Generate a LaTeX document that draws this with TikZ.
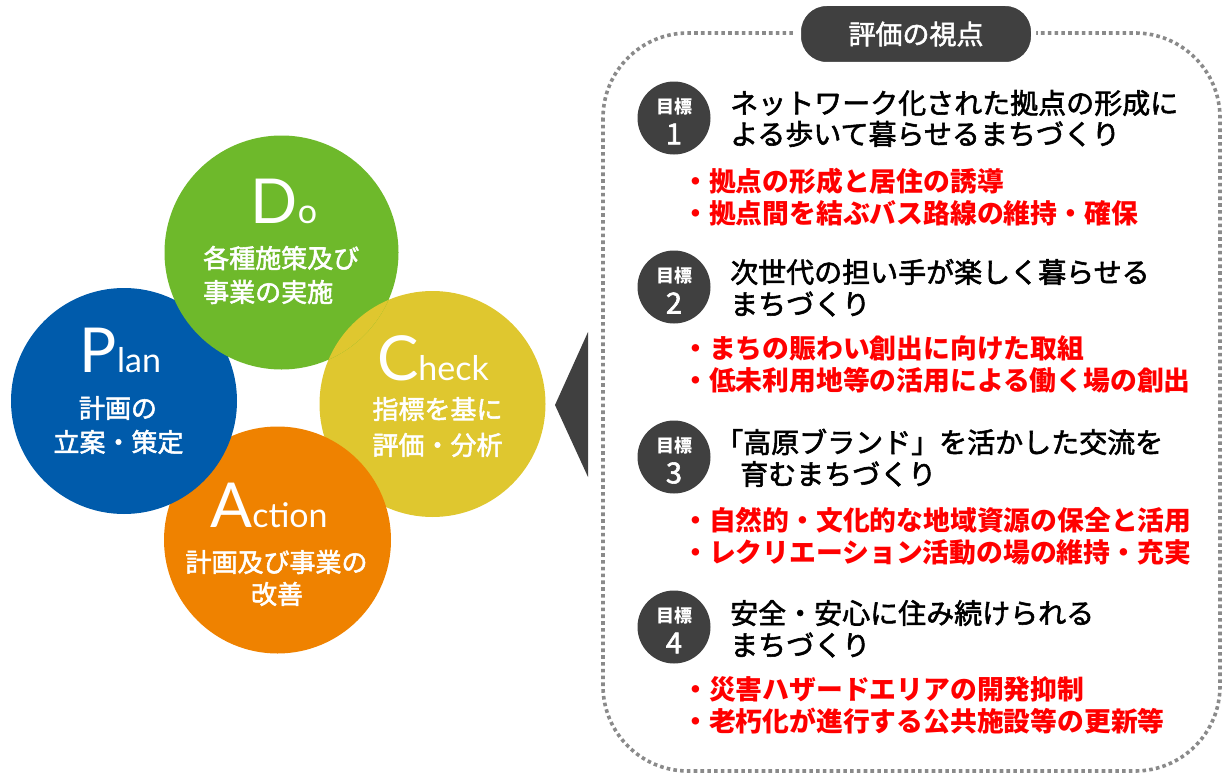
\documentclass[tikz,border=0pt]{standalone}
\usepackage{fontspec}
\setmainfont{Lato}
\newfontfamily\jp{Noto Sans CJK JP}
\newfontfamily\jpm[FakeBold=2]{Noto Sans CJK JP}
\newfontfamily\lat{Lato}
\definecolor{cgreen}{HTML}{6EB92B}
\definecolor{cblue}{HTML}{005BAB}
\definecolor{cyellow}{HTML}{DFC72F}
\definecolor{corange}{HTML}{EF8200}
\definecolor{dark}{HTML}{404040}
\definecolor{dotgray}{HTML}{8A8A8A}
\definecolor{itemred}{HTML}{FF0000}
\newcommand{\bigw}[2]{{\lat\fontsize{62}{62}\selectfont #1}{\lat\fontsize{34}{34}\selectfont #2}}
\begin{document}
\begin{tikzpicture}[x=1pt,y=-1pt,
  pdca/.style={circle, inner sep=0pt, draw=none},
  ctext/.style={text=white, inner sep=0pt, font=\jpm\fontsize{26}{26}\selectfont},
  latin/.style={text=white, inner sep=0pt, anchor=base},
  head/.style={anchor=west, inner sep=0pt, text=black, font=\jpm\fontsize{28}{28}\selectfont},
  item/.style={anchor=west, inner sep=0pt, text=itemred, font=\jp\bfseries\fontsize{26.8}{28}\selectfont},
  badge/.style={circle, fill=dark, minimum size=73pt, inner sep=0pt},
  btext/.style={text=white, inner sep=0pt, font=\jp\bfseries\fontsize{18}{18}\selectfont},
  bnum/.style={text=white, inner sep=0pt, font=\jpm\fontsize{29}{29}\selectfont}
]
\path[use as bounding box] (0,0) rectangle (1226,776);

% PDCA circles
\node[pdca, fill=cyellow, minimum size=226pt] (check) at (432.5,404) {};
\node[pdca, fill=corange, minimum size=227pt] (action) at (277.5,540) {};
\node[pdca, fill=cblue, minimum size=226pt] (plan) at (124,401) {};
\node[pdca, fill=cgreen, minimum size=234pt] (do) at (281.5,252.5) {};
\begin{scope}
  \clip (do.center) circle (117pt);
  \fill[cyellow] (check.center) circle (113pt);
\end{scope}

\node[latin] (dow) at (284,223) {\bigw{D}{o}};
\node[ctext, anchor=west] (do1) at (203,258) {各種施策及び};
\node[ctext, anchor=west] (do2) at (203,292) {事業の実施};

\node[latin] (planw) at (120.5,372) {\bigw{P}{lan}};
\node[ctext] (plan1) at (118,408) {計画の};
\node[ctext] (plan2) at (118.5,442) {立案・策定};

\node[latin] (checkw) at (433,380) {\bigw{C}{heck}};
\node[ctext] (check1) at (437.5,409) {指標を基に};
\node[ctext] (check2) at (437.5,445) {評価・分析};

\node[latin] (actionw) at (269,527) {\bigw{A}{ction}};
\node[ctext] (action1) at (276.5,562) {計画及び事業の};
\node[ctext] (action2) at (277,594) {改善};

% pointer triangle
\fill[dark] (555,405) -- (588,332) -- (588,477) -- cycle;

% dotted frame
\draw[dotgray, line width=3.6pt, dash pattern=on 3.6pt off 3.2pt, rounded corners=85pt]
  (603,33) rectangle (1220,771);

% title pill
\node[fill=dark, draw=white, line width=5pt, rounded corners=28pt, minimum width=235pt,
  minimum height=61pt, inner sep=0pt, text=white, font=\jpm\fontsize{27}{27}\selectfont]
  (title) at (916,34) {評価の視点};

% goal 1
\node[badge] (b1) at (674,118) {};
\node[btext] (b1t) at (674,107) {目標};
\node[bnum] (b1n) at (674,134) {1};
\node[head] (h1a) at (730,103) {ネットワーク化された拠点の形成に};
\node[head] (h1b) at (730,134) {よる歩いて暮らせるまちづくり};
\node[item] (i1a) at (682,181) {・拠点の形成と居住の誘導};
\node[item] (i1b) at (682,213) {・拠点間を結ぶバス路線の維持・確保};

% goal 2
\node[badge] (b2) at (674,287) {};
\node[btext] (b2t) at (674,276) {目標};
\node[bnum] (b2n) at (674,303) {2};
\node[head] (h2a) at (730,272) {次世代の担い手が楽しく暮らせる};
\node[head] (h2b) at (730,304) {まちづくり};
\node[item] (i2a) at (682,348) {・まちの賑わい創出に向けた取組};
\node[item] (i2b) at (682,380) {・低未利用地等の活用による働く場の創出};

% goal 3
\node[badge] (b3) at (674,457) {};
\node[btext] (b3t) at (674,446) {目標};
\node[bnum] (b3n) at (674,473) {3};
\node[head] (h3a) at (715,442) {「高原ブランド」を活かした交流を};
\node[head] (h3b) at (740,474) {育むまちづくり};
\node[item] (i3a) at (682,520) {・自然的・文化的な地域資源の保全と活用};
\node[item] (i3b) at (682,552) {・レクリエーション活動の場の維持・充実};

% goal 4
\node[badge] (b4) at (674,627) {};
\node[btext] (b4t) at (674,616) {目標};
\node[bnum] (b4n) at (674,643) {4};
\node[head] (h4a) at (730,613) {安全・安心に住み続けられる};
\node[head] (h4b) at (730,645) {まちづくり};
\node[item] (i4a) at (682,689) {・災害ハザードエリアの開発抑制};
\node[item] (i4b) at (682,721) {・老朽化が進行する公共施設等の更新等};
\end{tikzpicture}
\end{document}
